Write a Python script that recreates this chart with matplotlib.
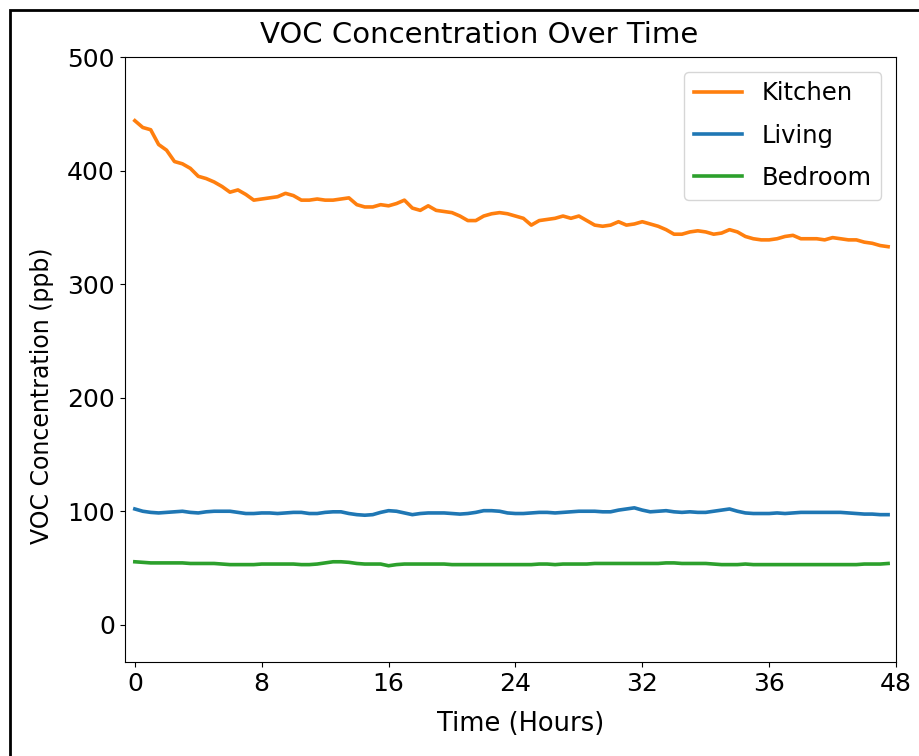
import numpy as np
import matplotlib
matplotlib.use("Agg")
import matplotlib.pyplot as plt
from matplotlib.patches import Rectangle

# time axis, half-hour readings
hours = np.arange(0, 48, 0.5)

kitchen = [444, 438, 436, 423, 418, 408, 406, 402, 395, 393,
           390, 386, 381, 383, 379, 374, 375, 376, 377, 380,
           378, 374, 374, 375, 374, 374, 375, 376, 370, 368,
           368, 370, 369, 371, 374, 367, 365, 369, 365, 364,
           363, 360, 356, 356, 360, 362, 363, 362, 360, 358,
           352, 356, 357, 358, 360, 358, 360, 356, 352, 351,
           352, 355, 352, 353, 355, 353, 351, 348, 344, 344,
           346, 347, 346, 344, 345, 348, 346, 342, 340, 339,
           339, 340, 342, 343, 340, 340, 340, 339, 341, 340,
           339, 339, 337, 336, 334, 333]

living = [102, 100, 99, 98.5, 99, 99.5, 100, 99, 98.5, 99.5,
          100, 100, 100, 99, 98, 98, 98.5, 98.5, 98, 98.5,
          99, 99, 98, 98, 99, 99.5, 99.5, 98, 97, 96.5,
          97, 99, 100.5, 100, 98.5, 97, 98, 98.5, 98.5, 98.5,
          98, 97.5, 98, 99, 100.5, 100.5, 100, 98.5, 98, 98,
          98.5, 99, 99, 98.5, 99, 99.5, 100, 100, 100, 99.5,
          99.5, 101, 102, 103, 101, 99.5, 100, 100.5, 99.5, 99,
          99.5, 99, 99, 100, 101, 102, 100, 98.5, 98, 98,
          98, 98.5, 98, 98.5, 99, 99, 99, 99, 99, 99,
          98.5, 98, 97.5, 97.5, 97, 97]

bedroom = [55.5, 55, 54.5, 54.5, 54.5, 54.5, 54.5, 54, 54, 54,
           54, 53.5, 53, 53, 53, 53, 53.5, 53.5, 53.5, 53.5,
           53.5, 53, 53, 53.5, 54.5, 55.5, 55.5, 55, 54, 53.5,
           53.5, 53.5, 52, 53, 53.5, 53.5, 53.5, 53.5, 53.5, 53.5,
           53, 53, 53, 53, 53, 53, 53, 53, 53, 53,
           53, 53.5, 53.5, 53, 53.5, 53.5, 53.5, 53.5, 54, 54,
           54, 54, 54, 54, 54, 54, 54, 54.5, 54.5, 54,
           54, 54, 54, 53.5, 53, 53, 53, 53.5, 53, 53,
           53, 53, 53, 53, 53, 53, 53, 53, 53, 53,
           53, 53, 53.5, 53.5, 53.5, 54]

xtick_pos = [0, 8, 16, 24, 32, 40, 48]
xtick_labels = ['0', '8', '16', '24', '32', '36', '48']

plt.rcParams['font.family'] = ['DejaVu Sans']

fig = plt.figure(figsize=(9.19, 7.56), dpi=100)
ax = fig.add_axes([0.1355, 0.124, 0.8395, 0.8005])

ax.plot(hours, kitchen, color='#ff7f0e', lw=2.6, label='Kitchen')
ax.plot(hours, living, color='#1f77b4', lw=2.6, label='Living')
ax.plot(hours, bedroom, color='#2ca02c', lw=2.6, label='Bedroom')

ax.set_xlim(-0.65, 48)
ax.set_ylim(-33, 500)
ax.set_xticks(xtick_pos)
ax.set_xticklabels(xtick_labels)
ax.set_yticks([0, 100, 200, 300, 400, 500])
ax.tick_params(labelsize=18)

ax.set_title('VOC Concentration Over Time', fontsize=21, pad=10, x=0.46)
ax.set_xlabel('Time (Hours)', fontsize=18.5)
ax.set_ylabel('VOC Concentration (ppb)', fontsize=17)
ax.xaxis.set_label_coords(0.513, -0.08)
ax.yaxis.set_label_coords(-0.091, 0.44)
ax.legend(loc='upper right', fontsize=17.5, labelspacing=0.75,
          borderaxespad=0.6)

# outer frame of the screenshot
fig.patches.append(Rectangle((10 / 919, -0.1), 1.2, 1 - 10 / 756 + 0.1,
                             transform=fig.transFigure, fill=False,
                             edgecolor='black', lw=2))

fig.savefig('out.png', dpi=100)
